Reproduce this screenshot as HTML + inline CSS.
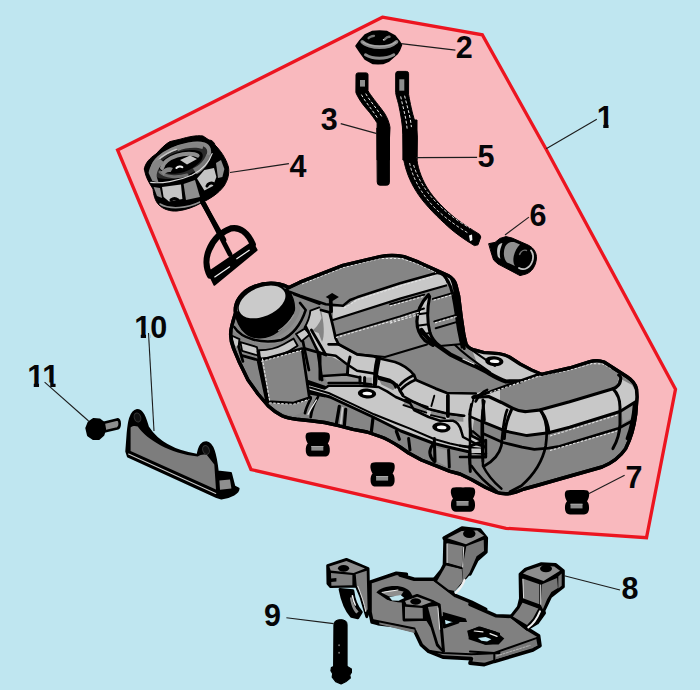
<!DOCTYPE html>
<html lang="en">
<head>
<meta charset="utf-8">
<title>Fuel tank assembly diagram</title>
<style>
html,body{margin:0;padding:0;background:#bfe6f0;}
body{width:700px;height:690px;overflow:hidden;}
svg{display:block;}
text{font-family:"Liberation Sans",sans-serif;font-weight:bold;font-size:30.5px;fill:#050508;}
</style>
</head>
<body>
<svg width="700" height="690" viewBox="0 0 700 690" stroke-linejoin="round" stroke-linecap="round">
<rect width="700" height="690" fill="#bfe6f0"/>
<polygon points="382.4,17.2 482.3,34.8 546,149 675.5,389.2 646.5,537.7 506,528.3 251,469.5 117.6,150" fill="#f9b9be" stroke="#ec1520" stroke-width="3.3" stroke-linejoin="miter"/>
<defs><clipPath id="sil"><path d="M235.5,313 C234,302 242,291 254,286.5 C262,283.5 272,282.8 279,284 C284,285 287,286.5 289,287.5 L300,282.2 L343,265.4 L380,256.6 C388,255 396,255 404,256.6 L418.6,262.2 L437,270.6 L448,275.5 C453,278.4 455,281.4 456,285.4 L458.6,296 L461.4,318.6 L464,335.7 L466,344 C468,348 471,349.5 476,350.5 L484,352.6 L498.6,353.6 C504,354.5 507,355.5 510,357.5 L520,364 L531.4,370 L541.4,374.3 L569.6,368 L590,361.6 C594,360.4 600,360.4 604,362 L611.4,366.7 L627,376.7 C632,380 635.5,384 636.5,389 L637,397 L635.7,414.3 C634,428 630,440 625.7,448.6 C620,457 612,463 602,467 L559.6,479 L538.6,485 L524,489 C518,491.5 514,493 510,493.5 C504,494 500,493.5 497,492.5 L485.7,487.5 L471.4,479.5 L460,474 L450,471.4 L435.7,465.7 L421.4,460 L408.6,453 L400,447 C392,442 386,438.5 381.4,437 L367,432 L353,429.3 L338.6,425.7 L324.6,422.5 L310.7,420.7 L296.4,419.3 C290,418.5 286,417.5 282,415.7 C276,412.5 272,409.5 268,405.7 L258,394 L248,380 L239,361.4 L233.6,348.6 C231,342 230,336 231,330 C232,324 234,318 235.5,313 Z"/></clipPath></defs>
<path d="M235.5,313 C234,302 242,291 254,286.5 C262,283.5 272,282.8 279,284 C284,285 287,286.5 289,287.5 L300,282.2 L343,265.4 L380,256.6 C388,255 396,255 404,256.6 L418.6,262.2 L437,270.6 L448,275.5 C453,278.4 455,281.4 456,285.4 L458.6,296 L461.4,318.6 L464,335.7 L466,344 C468,348 471,349.5 476,350.5 L484,352.6 L498.6,353.6 C504,354.5 507,355.5 510,357.5 L520,364 L531.4,370 L541.4,374.3 L569.6,368 L590,361.6 C594,360.4 600,360.4 604,362 L611.4,366.7 L627,376.7 C632,380 635.5,384 636.5,389 L637,397 L635.7,414.3 C634,428 630,440 625.7,448.6 C620,457 612,463 602,467 L559.6,479 L538.6,485 L524,489 C518,491.5 514,493 510,493.5 C504,494 500,493.5 497,492.5 L485.7,487.5 L471.4,479.5 L460,474 L450,471.4 L435.7,465.7 L421.4,460 L408.6,453 L400,447 C392,442 386,438.5 381.4,437 L367,432 L353,429.3 L338.6,425.7 L324.6,422.5 L310.7,420.7 L296.4,419.3 C290,418.5 286,417.5 282,415.7 C276,412.5 272,409.5 268,405.7 L258,394 L248,380 L239,361.4 L233.6,348.6 C231,342 230,336 231,330 C232,324 234,318 235.5,313 Z" fill="#858585" stroke="#000" stroke-width="3.4" />
<g clip-path="url(#sil)">
<path d="M233.6 326.4C240 337.1 255.7 342.9 268.6 340C282.9 336.4 297.1 324.3 300 310L300 302.9L305.7 310C304.3 324.3 294.3 337.1 281.4 342.1C267.1 347.1 244.3 341.4 232.1 330Z" fill="#8e8e8e" stroke="none" stroke-width="2" />
<path d="M233.6 337.1L238.6 340L237.9 346.4L234.3 344.3Z" fill="#c8c8c8" stroke="#c8c8c8" stroke-width="1.6" />
<path d="M241.4 343.1L256 347.9L257.4 354.6L242.9 350Z" fill="#c8c8c8" stroke="#c8c8c8" stroke-width="1.6" />
<path d="M260 351.1C267.1 351.1 277.1 348.9 284.3 345L293.1 339.7L296.4 345.4C291.4 349.3 285.7 352.1 280 354.3C272.9 356.4 265.7 357.4 260.7 357.4Z" fill="#c8c8c8" stroke="#c8c8c8" stroke-width="1.6" />
<path d="M297.1 334.3L304.6 329.7L308.9 334.3L301.4 340.3Z" fill="#c8c8c8" stroke="#c8c8c8" stroke-width="1.6" />
<path d="M305.7 327.1C308.6 322.9 310.7 317.1 311.4 311.4L318.6 308.6L320.7 317.9C318.6 322.9 315.7 327.1 311.4 330.3Z" fill="#c8c8c8" stroke="#c8c8c8" stroke-width="1.6" />
<path d="M321,310 L329.5,312.4 C332,322 334,330 335.5,338 L338.6,344.3 L330,346 L326,355 L318,352 L322,342 C325,336 324,322 321,310 Z" fill="#c8c8c8" stroke="none" stroke-width="2" />
<path d="M310 330L318.6 332.9L325.7 351.4L318.6 352.9L310 344.3Z" fill="#c8c8c8" stroke="none" stroke-width="2" />
<path d="M333,307 L348.6,305 L357,298 L400,283.6 L435.7,273.6 L443,275.7 L447,283 L445.7,285.7 L400,298.6 L333,320 Z" fill="#c8c8c8" stroke="none" stroke-width="2" />
<path d="M444.3 276.4L451.4 278.6L454.6 285.7L448.9 284.6Z" fill="#c8c8c8" stroke="none" stroke-width="2" />
<path d="M428.3 295.4C422.1 301.4 417.9 310 417.1 320C416.9 327.1 419.3 334.3 424.3 339.3L432.9 345C429.3 337.1 427.4 327.1 427.4 317.1C427.4 310 428 302.9 429.3 297.1Z" fill="#c8c8c8" stroke="none" stroke-width="2" />
<path d="M328.6,344.3 L338.6,344.3 L357,354.3 L374,356.4 L382,359 L395,362 L407,368 L414,375 L416,380 L435.7,388.6 L447,393 L475.7,393.5 L486,390 L500,390 L500,404 L489,406 L485,418.6 L483,437 L486,447 L485.7,453 L468.6,451.4 L450,447 L434,443 L401,431 L373,417 L330,397 L310,391.4 L309,384 L324.6,388 L328.6,385.7 L326,355 Z" fill="#c8c8c8" stroke="none" stroke-width="2" />
<path d="M472,350 L484,352.6 L498.6,354.3 L510,358.6 L520,365.7 L540,374.3 L520,381.4 L505.7,381.4 L491.4,373 L477,363 Z" fill="#c8c8c8" stroke="none" stroke-width="2" />
<path d="M473,397.5 L488.6,396.5 L501.4,402.4 L513,408.4 L527,411.5 L538.6,410.2 L569.6,401.8 L613,388.8 L617,384 L619,378 L632,385 L636.5,393 L636,402.5 L620,411.5 L569.6,427.2 L548.6,432.8 L527,435.6 L505.7,431.2 L484,422.4 L473,415 Z" fill="#c8c8c8" stroke="none" stroke-width="2" />
<path d="M621.4 411.4L634.3 404.3L633.1 417.1L623.1 422.9Z" fill="#9a9a9a" stroke="none" stroke-width="2" />
<path d="M320,355 L332,357 L340,361 L349,365.5 L349,375.5 L320,377 Z" fill="#858585" stroke="none" stroke-width="2" />
<path d="M310,338 L319.5,350 L319.5,384 L310,384 Z" fill="#858585" stroke="none" stroke-width="2" />
<path d="M322.9 376L345.7 374.6L360 377.4L360 383.1L328.6 383.1Z" fill="#9a9a9a" stroke="none" stroke-width="2" />
<path d="M364.6 377.4L371.7 377.4L371.7 384.6L364.6 383.9Z" fill="#9a9a9a" stroke="none" stroke-width="2" />
<path d="M378.9 378.9L390 381.7L395.7 387.4L393.1 390.3L381.4 384.6Z" fill="#858585" stroke="none" stroke-width="2" />
<path d="M405.1 399.4L427.7 406.9L426.3 412.6L403.4 405.1Z" fill="#8e8e8e" stroke="none" stroke-width="2" />
<path d="M430.9 409.7L446.3 413.3L445.1 418.3L430.9 415.1Z" fill="#8e8e8e" stroke="none" stroke-width="2" />
<path d="M448.6 414L463.4 416.1L463.4 421.7L450 420.9Z" fill="#8e8e8e" stroke="none" stroke-width="2" />
<path d="M474.3 418.6L481.7 420.3L481.7 437.4L471.7 434.6Z" fill="#858585" stroke="none" stroke-width="2" />
<path d="M269.3 404.6L293.6 403.1L310.7 398.9L303.9 411.7L293.6 416L282.1 413.1Z" fill="#8c8c8c" stroke="none" stroke-width="2" />
<path d="M436 447.4L447.1 450.3L448.6 467.4L437.4 461.7Z" fill="#9a9a9a" stroke="none" stroke-width="2" />
<path d="M290,292 L300,295.7 L325.7,304.3 L343,305.7 L350,300 L357,297.3 L400,283.2 L435.7,273.2 C441,272 446,276 447.5,282" fill="none" stroke="#000" stroke-width="2.5" />
<path d="M333,320 L400,298.6 L446,285.5" fill="none" stroke="#000" stroke-width="2.25" />
<path d="M335.7,335.7 L400,316.4 L424,308.5" fill="none" stroke="#000" stroke-width="1.88" />
<path d="M390 304.3L424.3 294.6" fill="none" stroke="#000" stroke-width="1.88" />
<path d="M325.7 297.1L332.1 292.9L338.9 296.9L332.6 301.1Z" fill="#000" stroke="none" stroke-width="2" />
<path d="M330.7 299.3L331.1 311.4" fill="none" stroke="#000" stroke-width="3.75" />
<path d="M338.6,344.3 L357,354.3 L370,355.5 L385,357 L427,344.5" fill="none" stroke="#000" stroke-width="2.0" />
<path d="M421.4,330 C426,337 430,341 435.7,344.3 L450,354.3 L464.3,361.4 L474.3,365.7 L485.7,371.4 C492,375 498,379 506,381.5 L520,381.4" fill="none" stroke="#000" stroke-width="4.25" />
<path d="M463,359 L474,364" fill="none" stroke="#ececec" stroke-width="1.3" />
<path d="M428.6 294.6C422.1 301.4 417.1 311.4 416.9 321.4C416.9 328.6 420 335.7 425 340.7L432.9 345.4" fill="none" stroke="#000" stroke-width="3.25" />
<path d="M429.7 296.4C427.4 307.1 426.9 321.4 430 332.9C432.1 338.6 435.7 342.9 440 346" fill="none" stroke="#000" stroke-width="3.0" />
<path d="M418.6 314.3L427.4 312.9M417.4 325.7L428.3 324.3M420.7 334.3L430.7 332.9" fill="none" stroke="#000" stroke-width="2.0" />
<path d="M432.9 298.9L453.1 292.9M434.3 321.4L457.1 314.6M435.7 328.3L458.9 321.4M440 346L467.9 343.6" fill="none" stroke="#000" stroke-width="2.0" />
<path d="M445 276.4C450 282.9 452.9 292.9 454.6 304.3L458.6 330L462.1 347.1M451.4 278.6C455 285.7 456.4 297.1 458.3 311.4L461.4 332.9L464.3 348.6" fill="none" stroke="#000" stroke-width="3.0" />
<path d="M460,340 C470,350 482,357 495,366 M455,345 C466,356 478,364 490,372" fill="none" stroke="#000" stroke-width="2.0" />
<path d="M328.6,344.3 L338.6,344.3 L357,354.3 L374,356.4 L382,359 L395,362 C404,365 410,370 414,375 L416,380 L435.7,388.6 L447,393 L475.7,393.5" fill="none" stroke="#000" stroke-width="2.75" />
<path d="M325.7,354.3 L335.7,355.7 L347,364.3 L357,370.7 L374,373.6 L379,377 L390,380 C396,383 399,387 400,391 L403,396 L414,402 L428.6,409 L447,413.5 L464.3,415.7" fill="none" stroke="#000" stroke-width="2.5" />
<path d="M320 354.3L320 379.3M350 357.1L347.9 366.4L347.4 374.6M377.1 358.6C375 367.1 374.3 377.1 374.6 385.7M360 377.1L360 383.1M364.6 377.4L364.6 383.9" fill="none" stroke="#000" stroke-width="3.0" />
<path d="M322.9 376L345.7 374.6L360 377.4M328.6 383.1L360 383.1L371.7 384.6M378.9 378.9L390 381.7C392.9 382.9 395 385 395.7 387.4" fill="none" stroke="#000" stroke-width="2.5" />
<path d="M379 358C377 367 375.5 377 375 385" fill="none" stroke="#000" stroke-width="4.0" />
<path d="M414 375C410 377 404 380 400 385M400 391C403 387 408 383 415 380M397 385C398.5 388 400 391 403 395" fill="none" stroke="#000" stroke-width="2.75" />
<path d="M405.1 399.4L427.7 406.9M430.9 409.7L446.3 413.3M448.6 414L463.4 416.1M403.4 405.1L426.3 412.6M430.9 415.1L445.1 418.3M434.3 395.7L431.4 406M474.3 395.7L469.3 414.6" fill="none" stroke="#000" stroke-width="1.88" />
<path d="M447.9 395.7L447.9 416" fill="none" stroke="#000" stroke-width="3.75" />
<path d="M309,384 L324.6,388.5 L328.6,385.7 L360,385.7 L378.6,387 L387,391.4 L395.7,397 L410,403 L414,410 L428.6,417 L440,420.7 L453,420.7 C458,422 460,426 461.4,431.4 L463,437 L477,444.3 L485.7,447" fill="none" stroke="#000" stroke-width="2.5" />
<path d="M310,387.5 L328.6,393 L353,404.3 L374,414.3 L395.7,423 L410,428.6 L434,439 L450,443.5 L468.6,447.5 L484,449" fill="none" stroke="#000" stroke-width="2.0" />
<path d="M310,391.4 L330,397 L373,417 L401,431 L434,443.5 L450,447.5 L468.6,451.8 L485.7,453.5" fill="none" stroke="#000" stroke-width="3.0" />
<path d="M470 446L485.7 440.3L485.7 457.1L470 457.1Z" fill="none" stroke="#000" stroke-width="3.0" />
<path d="M471.4 448.6L484.3 448.6L484.3 452.9L471.4 452.9Z" fill="#c8c8c8" stroke="none" stroke-width="2" />
<path d="M339.3 406.4L336.4 423.6M345.7 409.3L344.3 426.4M372.9 418.6L371.4 431.4M396.4 431.4L399.3 439.3" fill="none" stroke="#000" stroke-width="3.25" />
<path d="M309.3 393.1L324.6 396M310.7 398.6C307.9 404.3 305.7 408.6 305 413.1M317.9 397.1C313.6 404.3 311.4 411.4 310.7 417.1" fill="none" stroke="#000" stroke-width="2.75" />
<path d="M307.9 381.4L324.6 387.1" fill="none" stroke="#000" stroke-width="3.0" />
<path d="M408.6 438.6L410 450M434.3 438.6L435 461.4M448.6 450L449.3 467.1M469.3 454.3L470.3 471.4M432.9 444.3C428.6 450 428.6 455.7 434.3 461.4" fill="none" stroke="#000" stroke-width="3.0" />
<path d="M342.6 407.9L340.7 424.3" fill="none" stroke="#c8c8c8" stroke-width="1.8" />
<path d="M316.4 400C312.9 405.7 310 410 308.1 414.3" fill="none" stroke="#ececec" stroke-width="1.4" />
<path d="M230 332.9C231.4 338.6 233.6 344.3 234.3 350M234.3 327.1C241.4 338.6 261.4 344.3 281.4 340C291.4 335.7 300 327.1 305.7 310L300 302.9" fill="none" stroke="#000" stroke-width="2.5" />
<path d="M232.6 336L239.4 339.1L238.6 347.4M240.4 342.1L256.9 347.1L258.6 355.7L242.1 350.9ZM259 350.3C267.1 350.3 277.1 348 283.7 344.3L293.6 338.6L297.6 345.7C291.4 350.3 285.7 353.1 280 355.3C272.9 357.4 265.7 358.4 260 358.4ZM296 334L304.7 328.6L310 334.3L301.4 341.4ZM304.6 327.4C307.4 322.9 309.7 317.1 310.4 310.7L319.3 307.4" fill="none" stroke="#000" stroke-width="1.88" />
<path d="M257.9 351.4L260.3 370M302.9 341.4L308.9 370M238.6 346.4L242.9 361.4M294.3 294.3L319.6 303.6" fill="none" stroke="#000" stroke-width="2.75" />
<path d="M321,310 L329.5,312.4 C332,322 334,330 335.5,338 L338.6,344.3 M306,327 L318,352 M311.4,330 L326,355 M318,352 L326,355" fill="none" stroke="#000" stroke-width="2.75" />
<path d="M242.1 355.7L257.9 360L266.4 400M259.3 357.1L267.9 400.7M260.7 360L302.1 348.6M267.9 401.7L293.6 403.1L310.7 397.4M302.1 348.6L309.3 397.1M305 348.6L324.6 354.3M317.9 352.9L322.1 380" fill="none" stroke="#000" stroke-width="2.75" />
<path d="M538.6,374.3 L483,394.3 L473,397" fill="none" stroke="#000" stroke-width="3.0" />
<path d="M473,397.5 L488.6,396.5 L501.4,402.4 L513,408.4 C518,411 523,411.8 527,411.5 L538.6,410.2 L569.6,401.8 L613,388.8 C617,387.3 620,384 620.5,380" fill="none" stroke="#000" stroke-width="3.25" />
<path d="M484,422.4 L505.7,431.2 L527,435.6 L548.6,432.8 L569.6,427.2 L620,411.5 L636,401.5" fill="none" stroke="#000" stroke-width="3.0" />
<path d="M484,434 L503,442.5 L522,447.2 L534.3,449.4 L548.6,448.2 L559.6,446.3 L618.6,428.2 L633,420.5" fill="none" stroke="#000" stroke-width="2.75" />
<path d="M482.9 400L484.3 420M511.4 410C507.9 417.1 505 425.7 504.3 438.6M541.4 411.4C546.4 418.6 548.3 425.7 548.9 432.9" fill="none" stroke="#000" stroke-width="3.0" />
<path d="M612.9 388.6C617.1 392.9 620 398.6 620 407.1L620 424.3C619.7 432.9 617.1 441.4 612.9 448.6M634.3 404.3C633.6 414.3 631.4 427.1 627.1 438.6M620 381.4C621.4 378.6 621.1 376.4 618.6 375" fill="none" stroke="#000" stroke-width="3.0" />
<path d="M507.1 410C503.6 418.6 502.9 428.6 501.4 445.7C499.3 454.3 492.9 461.4 484.3 466M540 410C546.4 418.6 547.9 431.4 545.7 445.7C542.9 460 534.3 474.3 521.4 485.7L510 491.7" fill="none" stroke="#000" stroke-width="2.75" />
<path d="M470 410L470 464.3M482.9 410L482.9 464.3M471.4 417.1L481.4 421.4M472.9 431.4L481.4 438.6M460 445.7L470 447.1M460 457.1L481.4 457.1M471.4 465.7C477.1 474.3 485.7 482.9 497.1 491.4M482.9 465.7C487.1 474.3 492.9 481.4 501.4 488.6" fill="none" stroke="#000" stroke-width="2.5" />
<path d="M471.4 404.3C469.3 412.9 469.3 424.3 471.4 435.7L480 440M484.3 401.4C481.7 411.4 481.1 432.9 482.9 461.4M475.7 401.4C478.6 395.7 482.9 391.4 487.1 390" fill="none" stroke="#000" stroke-width="2.75" />
<path d="M302,284 L343,267.5 L380,258.5 L402,258.5 L418,264 L436,272.5" fill="none" stroke="#e4e4e4" stroke-width="1.1" stroke-dasharray="2.5 1.5" stroke-linecap="butt"/>
<path d="M336,337.5 L400,318.5 L424,310.5" fill="none" stroke="#e4e4e4" stroke-width="1.1" stroke-dasharray="2.5 1.5" stroke-linecap="butt"/>
<path d="M390 306L424 296.3" fill="none" stroke="#e4e4e4" stroke-width="1.1" stroke-dasharray="2.5 1.5" stroke-linecap="butt"/>
<path d="M390 323.1L418.6 314.6" fill="none" stroke="#e4e4e4" stroke-width="1.1" stroke-dasharray="2.5 1.5" stroke-linecap="butt"/>
<path d="M344,308 L357,300 L400,286 L434,276" fill="none" stroke="#e4e4e4" stroke-width="1.1" stroke-dasharray="2.5 1.5" stroke-linecap="butt"/>
<path d="M490,392.5 L538,376.5 L570,370 L592,363.5 L603,364 L612,369" fill="none" stroke="#e4e4e4" stroke-width="1.1" stroke-dasharray="2.5 1.5" stroke-linecap="butt"/>
<path d="M550,436 L618,414.8" fill="none" stroke="#e4e4e4" stroke-width="1.1" stroke-dasharray="2.5 1.5" stroke-linecap="butt"/>
<path d="M550,450.5 L617,431" fill="none" stroke="#e4e4e4" stroke-width="1.1" stroke-dasharray="2.5 1.5" stroke-linecap="butt"/>
<path d="M541,487 L603,469.5" fill="none" stroke="#e4e4e4" stroke-width="1.1" stroke-dasharray="2.5 1.5" stroke-linecap="butt"/>
<path d="M261.4 361.4L301.4 350.3" fill="none" stroke="#e4e4e4" stroke-width="1.1" stroke-dasharray="2.5 1.5" stroke-linecap="butt"/>
<path d="M262.4 358.6L269.6 400.7" fill="none" stroke="#e4e4e4" stroke-width="1.1" stroke-dasharray="2.5 1.5" stroke-linecap="butt"/>
<path d="M269.3 402.9L293.6 404.3L309.3 399.3" fill="none" stroke="#e4e4e4" stroke-width="1.1" stroke-dasharray="2.5 1.5" stroke-linecap="butt"/>
<path d="M433.6 300.3L452.9 294.6" fill="none" stroke="#e4e4e4" stroke-width="1.1" stroke-dasharray="2.5 1.5" stroke-linecap="butt"/>
<path d="M435 322.9L457.1 316.3" fill="none" stroke="#e4e4e4" stroke-width="1.1" stroke-dasharray="2.5 1.5" stroke-linecap="butt"/>
</g>
<path d="M235.7 312.9C236 320 240 328.6 245.7 333.1C251.4 337.9 261.4 339.3 270 335.7C280 332.1 291.4 320 294.3 310C295 302.9 292.1 294.3 287.1 288.6Z" fill="#000" stroke="#000" stroke-width="1.5" />
<ellipse cx="262.3" cy="301.5" rx="26.3" ry="16.4" transform="rotate(-23 262.3 301.5)" fill="#000"/>
<ellipse cx="262.1" cy="301.9" rx="24.6" ry="14.5" transform="rotate(-23 262.1 301.9)" fill="#cacaca"/>
<path d="M278.6 330.7C284.3 327.1 290 321.4 293.6 315" fill="none" stroke="#999" stroke-width="1.3" />
<path d="M235.5,313 C234,302 242,291 254,286.5 C262,283.5 272,282.8 279,284 C284,285 287,286.5 289,287.5 L300,282.2 L343,265.4 L380,256.6 C388,255 396,255 404,256.6 L418.6,262.2 L437,270.6 L448,275.5 C453,278.4 455,281.4 456,285.4 L458.6,296 L461.4,318.6 L464,335.7 L466,344 C468,348 471,349.5 476,350.5 L484,352.6 L498.6,353.6 C504,354.5 507,355.5 510,357.5 L520,364 L531.4,370 L541.4,374.3 L569.6,368 L590,361.6 C594,360.4 600,360.4 604,362 L611.4,366.7 L627,376.7 C632,380 635.5,384 636.5,389 L637,397 L635.7,414.3 C634,428 630,440 625.7,448.6 C620,457 612,463 602,467 L559.6,479 L538.6,485 L524,489 C518,491.5 514,493 510,493.5 C504,494 500,493.5 497,492.5 L485.7,487.5 L471.4,479.5 L460,474 L450,471.4 L435.7,465.7 L421.4,460 L408.6,453 L400,447 C392,442 386,438.5 381.4,437 L367,432 L353,429.3 L338.6,425.7 L324.6,422.5 L310.7,420.7 L296.4,419.3 C290,418.5 286,417.5 282,415.7 C276,412.5 272,409.5 268,405.7 L258,394 L248,380 L239,361.4 L233.6,348.6 C231,342 230,336 231,330 C232,324 234,318 235.5,313 Z" fill="none" stroke="#000" stroke-width="3.4" />
<ellipse cx="367" cy="393.5" rx="9.2" ry="5" transform="rotate(5 367 393.5)" fill="#000"/>
<ellipse cx="367.3" cy="393.5" rx="4.8" ry="1.8" transform="rotate(3 367 393.5)" fill="#fafafa"/>
<ellipse cx="441.4" cy="427.4" rx="9.2" ry="5" transform="rotate(5 441.4 427.4)" fill="#000"/>
<ellipse cx="441.7" cy="427.4" rx="4.8" ry="1.8" transform="rotate(3 441.4 427.4)" fill="#fafafa"/>
<ellipse cx="494.3" cy="361.2" rx="9.2" ry="5" transform="rotate(5 494.3 361.2)" fill="#000"/>
<ellipse cx="494.6" cy="361.2" rx="4.8" ry="1.8" transform="rotate(3 494.3 361.2)" fill="#fafafa"/>
<path d="M356 46L360 40.5L365 35L372 31.6L379.5 31L387 31.6L395 36L399 41L401.5 45L399.5 50L397 54L389 61L383 63.5L378 63.8L373 63.5L365 59L360 52Z" fill="#000" stroke="#000" stroke-width="1.5" />
<path d="M362.2 41.8C365 45 373 47.2 379.5 47.2C386 47.2 393 45 396.5 41.8" fill="none" stroke="#8a8a8a" stroke-width="3.6" />
<path d="M363 42.2C367 44.8 374 46.2 379.5 46.2C385 46.2 392 44.8 395.8 42.2" fill="none" stroke="#b0b0b0" stroke-width="1.2" />
<path d="M365.5 54.8C369 57 374 58.2 379.5 58.2C385 58.2 390 57 393.8 54.8" fill="none" stroke="#8a8a8a" stroke-width="3" />
<path d="M368.5 38.2C369.5 36.8 371.5 36 374 35.8" fill="none" stroke="#777" stroke-width="2.2" />
<path d="M385 39C386.5 37.2 388 36.5 389.5 36.8" fill="none" stroke="#777" stroke-width="2.4" />
<path d="M383.4 39.6L384 40.2" fill="none" stroke="#eee" stroke-width="1.2" />
<path d="M356 74.6Q356 72.9 358 72.9L366 72.9Q368 72.9 368 74.6L368 90.7C370.7 95.7 376.4 102.1 384.3 112.9C387.1 117.1 389.4 122.9 390 127.4L389.4 140L389.4 160L377.1 160L377.1 122.9C374.3 118.6 371.4 114.3 365.7 107.9C361.4 102.9 357.9 97.4 356 92.9Z" fill="#000" stroke="#000" stroke-width="1" />
<path d="M377.2 128L389.4 128L389.4 182.4Q389.4 185.2 386.6 185.2L380 185.2Q377.2 185.2 377.2 182.4Z" fill="#000" stroke="#000" stroke-width="1" />
<path d="M360 80L365 80L365 86.6L360 86.6Z" fill="#8e8e8e" stroke="none" stroke-width="2" />
<path d="M361.4 94.6C365 101.4 371.4 108.6 377.4 117.9" fill="none" stroke="#e8e8e8" stroke-width="1" stroke-dasharray="3 2" stroke-linecap="butt"/>
<path d="M365.7 93.6C369.3 100 375.7 107.1 381.7 116.4" fill="none" stroke="#e8e8e8" stroke-width="1" stroke-dasharray="3 2" stroke-linecap="butt"/>
<path d="M395.7 73.6Q395.7 71.4 398 71.4L406.3 71.4Q408.6 71.4 408.6 73.6L408.6 94.3C409.3 98.6 411.4 110 413.6 117.1C415.7 124.3 417.1 131.4 417.3 137.1L416.9 160L402.9 160L402.9 134.3C402.6 124.3 400.7 114.3 398.6 104.3C397.1 98.6 396 95.7 395.7 92.9Z" fill="#000" stroke="#000" stroke-width="1" />
<path d="M403 120L417 120L417 160C418 170 423.6 182.4 427.6 188.4C433.6 198.4 445.6 210.4 455.6 218.4C463.6 224.4 471.6 229.4 479.6 234.4L480.8 237L478 244.8L474.4 245.6C464.4 239.6 452.4 231.2 444.4 223.2C434.4 214.2 422.4 201.6 416.4 191.6C409.6 181 405.6 170 403.8 160Z" fill="#000" stroke="#000" stroke-width="1" />
<path d="M399.3 79.3L404.3 79.3L404.3 90.7L399.3 90.7Z" fill="#8e8e8e" stroke="none" stroke-width="2" />
<path d="M400.7 96.4C402.9 107.1 406 117.1 407.1 128.6" fill="none" stroke="#e8e8e8" stroke-width="1" stroke-dasharray="3 2" stroke-linecap="butt"/>
<path d="M404.6 95.7C406.9 105.7 410.3 115.7 411.4 127.1" fill="none" stroke="#e8e8e8" stroke-width="1" stroke-dasharray="3 2" stroke-linecap="butt"/>
<path d="M409.6 163C413 180 424 198 438 211C448 220 458 227 468 233" fill="none" stroke="#e8e8e8" stroke-width="0.9" stroke-dasharray="3 2" stroke-linecap="butt"/>
<path d="M413.6 165C418 180 428 195 441 207C450 215.6 460 222.4 470 228" fill="none" stroke="#e8e8e8" stroke-width="0.9" stroke-dasharray="3 2" stroke-linecap="butt"/>
<path d="M469 235.6L472 234.4L472.4 240L470 241.2Z" fill="#f2f2f2" stroke="none" stroke-width="2" />
<path d="M489 243.6L495 242.4L500 238.4L506 236.6L512 238L528 245C534 248 537 253 536.4 259C535.6 266 532 272 526 274L520 275.6L514 272.4L498 264L493.6 260L491 252Z" fill="#000" stroke="#000" stroke-width="1" />
<path d="M505 247C507 243 510 241.6 514 242L520 244.4C517 247 514.4 252 513.6 257C513 261 513.6 264 515 266L507 262.4C503.6 259 503 252 505 247Z" fill="#8f8f8f" stroke="none" stroke-width="2" />
<path d="M498 246C499 244 501 243 502.4 243L500.4 249C499.6 252 499.6 256 500.4 259L498 257C496.8 254 496.8 249 498 246Z" fill="#c4c4c4" stroke="none" stroke-width="2" />
<path d="M519 268C524 271 530 268 532.4 261C533.6 257 533 253 531 250.4" fill="none" stroke="#c4c4c4" stroke-width="1.8" />
<path d="M519.6 254.4C521 251 524 249.6 526.4 250.4" fill="none" stroke="#6f6f6f" stroke-width="1.5" />
<path d="M144.4 169C145 163 150 158 156 154C160 150 165 144 170 141.6L181 139C188 137 196 135 203 136L209 140C212 140 214 142 215 145C220 150 226 158 228.4 167C229.6 173 228 180 224 186C219 193 210 199 201 203C194 207 186 210 177 211C170 211.6 163 209 159 205C155 201 153.6 195 153 189C150 184 145.6 178 144.4 169Z" fill="#000" stroke="#000" stroke-width="1" />
<path d="M150 167C151 160 160 152 171 147C182 142 196 139 205 142C212 145 213 152 209 159C204 168 192 175 180 178.4C168 181 156 180 151.6 174.4C150 172.4 149.6 169.6 150 167Z" fill="#2a2a2a" stroke="#000" stroke-width="1.5" />
<path d="M152.4 168C154 161 162 154 172 149.6C182 145.2 196 142 204 144.4C209 146.4 210.4 151 208.4 156" fill="none" stroke="#8a8a8a" stroke-width="4" />
<path d="M155 164.4C158 159 164 154.4 172.4 150.8C182.4 146.4 194.4 144 201.6 145.6" fill="none" stroke="#c8c8c8" stroke-width="1.4" />
<path d="M158 167C160 161 168 155 178 152C186 149.6 196 149 201 152C204 154.4 203 159 199 163C194 168 186 172.4 177 173.6C168 174.4 160 172.4 158 167Z" fill="#000" stroke="none" stroke-width="2" />
<path d="M162 168C163 163 169 158 177 155.6C185 153 194 153 197.6 155.6" fill="none" stroke="#8f8f8f" stroke-width="4" />
<path d="M180 160L190 155.6L197 159L187 164.4Z" fill="#c4c4c4" stroke="none" stroke-width="2" />
<path d="M176.4 168C178 166.4 181 166 182.4 167.2" fill="none" stroke="#eee" stroke-width="2" />
<path d="M160 172C165 177 177 178 187 175" fill="none" stroke="#6f6f6f" stroke-width="3" />
<path d="M148.6 172.9C149.3 166.7 153.6 161.9 159.6 158.7L164.3 162.4C159.6 166.1 156.4 171 156.7 176.7L158.6 182.4L152.4 181Z" fill="#858585" stroke="none" stroke-width="2" />
<path d="M175.3 146.7C183.6 143 195 141.6 203.9 144.4L202.4 149C195 146.7 185 148.1 178.1 151Z" fill="#858585" stroke="none" stroke-width="2" />
<path d="M192.9 168.6C199.3 165.7 204.3 160.7 206.4 154.3L211 155.6C209.3 163.6 203.6 170.7 196.7 174.3Z" fill="#777" stroke="none" stroke-width="2" />
<path d="M160.7 172.1C163.6 167.9 169.3 166.4 172.9 167.9L170.7 172.1C167.9 171.4 165 172.9 163.6 175.7Z" fill="#858585" stroke="none" stroke-width="2" />
<path d="M150.7 182.4C160.7 183.6 177.9 181.4 192.1 175C202.1 170 209.3 162.1 212.1 153.6" fill="none" stroke="#d8d8d8" stroke-width="1.2" />
<path d="M162 187L181 184.4L182.4 199L169 201.6L163.6 197Z" fill="#c4c4c4" stroke="none" stroke-width="2" />
<path d="M197 178.4L204.4 170L214 168L216.4 177L213 186L204.4 190.4Z" fill="#c4c4c4" stroke="none" stroke-width="2" />
<path d="M183.6 184L195 180L200 197L186 200Z" fill="#8f8f8f" stroke="none" stroke-width="2" />
<path d="M216 163L221 160L224.4 169L222.4 177L218 178Z" fill="#8f8f8f" stroke="none" stroke-width="2" />
<path d="M153.6 187L160 188L162 198L157 196Z" fill="#8f8f8f" stroke="none" stroke-width="2" />
<path d="M207 186C208 183.6 211 182.4 213.6 183.6" fill="none" stroke="#000" stroke-width="3" />
<path d="M171 200C173 198.4 176 198.4 178 200" fill="none" stroke="#000" stroke-width="3" />
<path d="M160 204C170 210 188 208 200 202" fill="none" stroke="#8f8f8f" stroke-width="1.5" />
<path d="M202.4 202L224 240" fill="none" stroke="#000" stroke-width="4.8" />
<path d="M204 204L230 254.4" fill="none" stroke="#000" stroke-width="4.8" />
<path d="M210 275.6C205.6 268 205.6 258 209 250C213 240 220 232.4 231 228.4C240 226.4 248 233 252.8 244.4" fill="none" stroke="#000" stroke-width="6.2" />
<path d="M208.4 272.4L252.4 242.4L256.6 250L214.4 284.8Z" fill="#000" stroke="#000" stroke-width="2" />
<path d="M214.4 277.2L230 266.4" fill="none" stroke="#f4f4f4" stroke-width="1.2" stroke-linecap="butt"/>
<path d="M236.4 259L249.6 250" fill="none" stroke="#f4f4f4" stroke-width="1.2" stroke-linecap="butt"/>
<g transform="translate(317.8 444.4)"><path d="M-9,-12 C-12,-12 -12.5,-9 -12,-6 C-11.6,-3.5 -10.6,-2 -10,-1 C-11.5,0.5 -12.2,3 -12,6.5 C-11.8,10 -10,12.2 -7,12.2 L7,12.2 C10,12.2 11.8,10 12,6.5 C12.2,3 11.5,0.5 10,-1 C10.6,-2 11.6,-3.5 12,-6 C12.5,-9 12,-12 9,-12 C6,-12.4 3,-12.2 0,-12.2 C-3,-12.2 -6,-12.4 -9,-12 Z" fill="#000"/><rect x="-6.5" y="1.6" width="12" height="4.6" fill="#8c8c8c"/><rect x="-6.5" y="1.6" width="12" height="1" fill="#a8a8a8"/></g>
<g transform="translate(382.6 474.4)"><path d="M-9,-12 C-12,-12 -12.5,-9 -12,-6 C-11.6,-3.5 -10.6,-2 -10,-1 C-11.5,0.5 -12.2,3 -12,6.5 C-11.8,10 -10,12.2 -7,12.2 L7,12.2 C10,12.2 11.8,10 12,6.5 C12.2,3 11.5,0.5 10,-1 C10.6,-2 11.6,-3.5 12,-6 C12.5,-9 12,-12 9,-12 C6,-12.4 3,-12.2 0,-12.2 C-3,-12.2 -6,-12.4 -9,-12 Z" fill="#000"/><rect x="-6.5" y="1.6" width="12" height="4.6" fill="#8c8c8c"/><rect x="-6.5" y="1.6" width="12" height="1" fill="#a8a8a8"/></g>
<g transform="translate(463 499.6)"><path d="M-9,-12 C-12,-12 -12.5,-9 -12,-6 C-11.6,-3.5 -10.6,-2 -10,-1 C-11.5,0.5 -12.2,3 -12,6.5 C-11.8,10 -10,12.2 -7,12.2 L7,12.2 C10,12.2 11.8,10 12,6.5 C12.2,3 11.5,0.5 10,-1 C10.6,-2 11.6,-3.5 12,-6 C12.5,-9 12,-12 9,-12 C6,-12.4 3,-12.2 0,-12.2 C-3,-12.2 -6,-12.4 -9,-12 Z" fill="#000"/><rect x="-6.5" y="1.6" width="12" height="4.6" fill="#8c8c8c"/><rect x="-6.5" y="1.6" width="12" height="1" fill="#a8a8a8"/></g>
<g transform="translate(577 502.2)"><path d="M-9,-12 C-12,-12 -12.5,-9 -12,-6 C-11.6,-3.5 -10.6,-2 -10,-1 C-11.5,0.5 -12.2,3 -12,6.5 C-11.8,10 -10,12.2 -7,12.2 L7,12.2 C10,12.2 11.8,10 12,6.5 C12.2,3 11.5,0.5 10,-1 C10.6,-2 11.6,-3.5 12,-6 C12.5,-9 12,-12 9,-12 C6,-12.4 3,-12.2 0,-12.2 C-3,-12.2 -6,-12.4 -9,-12 Z" fill="#000"/><rect x="-6.5" y="1.6" width="12" height="4.6" fill="#8c8c8c"/><rect x="-6.5" y="1.6" width="12" height="1" fill="#a8a8a8"/></g>
<path d="M127.7 432.9C128.6 422.9 130 411.4 137.1 410C143.4 410 145.7 420 148 427.1C157.1 441.4 174.3 451.4 197.7 454.9C198.6 448.6 201.4 442.3 206.3 442.3C212.9 442.9 215.7 454.3 217.7 471.4L230.9 472.9L234.3 486.3L238.6 488.6C238.6 492.9 231.4 497.1 221.4 498.6L216.6 497.1L128 456.6L126.3 451.4Z" fill="#000" stroke="#000" stroke-width="2" />
<path d="M130.6 427.4C132.9 425.7 135.4 425.7 137.7 426.6C147.1 440 170 453.7 197.7 456.6C200 454.9 203.4 454 206.9 454.9L214.3 464.6L216 489.4L130.6 450.9Z" fill="#7d7d7d" stroke="none" stroke-width="2" />
<path d="M128.6 454L215.7 493.4" fill="none" stroke="#c8c8c8" stroke-width="1.1" />
<path d="M219.4 480.6L230 479.4L231.4 488.6L220 489.7Z" fill="#8f8f8f" stroke="none" stroke-width="2" />
<ellipse cx="137.5" cy="417.5" rx="3.2" ry="4.5" fill="#111" stroke="#333" stroke-width="1" transform="rotate(-20 137.5 417.5)"/>
<ellipse cx="206" cy="450" rx="3.2" ry="4.5" fill="#111" stroke="#333" stroke-width="1" transform="rotate(-20 206 450)"/>
<path d="M102.9 422.9L117.1 419.4C120.6 419.4 120.6 427.7 117.1 428.6L104.3 431.4Z" fill="#8e8e8e" stroke="#000" stroke-width="2.6" />
<path d="M86.3 428L88.6 422.3L93.7 418.9L99.4 419.4L104 422.9L105.1 429.1L103.4 434.9L98.9 438.9L93.1 438.9L88 435.4Z" fill="#000" stroke="#000" stroke-width="2" />
<path d="M333.9 624.4Q333.9 619.9 340.6 619.6Q347.1 619.9 347.1 624.4L347.1 669L333.9 669Z" fill="#000" stroke="#000" stroke-width="1" />
<path d="M331.4 667.6L334.3 666.3L346.9 666.3L351.4 669L351.4 672.4L349.8 674.9L350.3 678.1L345.7 681.8L341.1 683.9L335.7 681.6L332.2 677.2L332.7 673.6L330.9 670.8Z" fill="#000" stroke="#000" stroke-width="1.2" />
<circle cx="339.0857142857143" cy="645.2285714285714" r="0.9" fill="#777"/>
<circle cx="339.0857142857143" cy="652.7714285714286" r="0.9" fill="#777"/>
<path d="M340 589.3L352.9 590.7C353.6 597.9 356.4 606.4 361.4 612.1L357.9 617.9L351.4 616.4C346.4 610.7 342.1 600.7 340 589.3Z" fill="#000" stroke="#000" stroke-width="2.8" />
<path d="M351.4 596.4C352.4 602.1 355 607.9 358.6 611.4L356.4 613.6C352.9 610 350.7 603.6 350 597.9Z" fill="#8e8e8e" stroke="none" stroke-width="0.0" />
<path d="M352.4 595.7C352.9 599.3 353.9 602.1 355.3 605" fill="none" stroke="#f0f0f0" stroke-width="1.5" />
<path d="M415.7 622.1L427.1 623.6C428.6 632.1 431.4 640.7 435.7 646.4L434.3 650.7L425 647.1C420 640.7 417.1 632.1 415.7 622.1Z" fill="#000" stroke="#000" stroke-width="2.8" />
<path d="M424.3 627.9C425.7 635 428.6 640.7 432.1 645L430 646.4C427.1 642.9 425 636.4 423.6 629.3Z" fill="#8e8e8e" stroke="none" stroke-width="0.0" />
<path d="M425.4 626.4C426.4 630.7 427.4 633.6 428.6 636.4" fill="none" stroke="#f0f0f0" stroke-width="1.5" />
<path d="M370 582.1L396.4 573.3L406.4 574.3 L400 575L414.3 579.3L434.3 579.3L455.7 595.7L471.4 602.1L485.7 609.3 L470 604.3L495.7 615.7L511.4 616.4L527.1 628.6L538.6 635.7L540 645.7L532.9 650L494.3 661.4L484.3 664.6L470 663.1 L471.4 658.6L442.9 657.1L428.6 651.4L421.4 645 L414.6 630.7L395 625.7L377.9 623.6L372.1 622.1L370 612.1 Z" fill="#808080" stroke="#000" stroke-width="3.6" />
<path d="M474.3 654.6L494.3 653.1L537.1 638.9L538.3 645.4L494.3 659.7L474.3 661.1Z" fill="#767676" stroke="none" stroke-width="0.0" />
<path d="M470 651.4L494.3 652.9L537.1 637.9" fill="none" stroke="#000" stroke-width="2" />
<path d="M496.4 656L530 645.4" fill="none" stroke="#aaa" stroke-width="1.2" stroke-dasharray="2 1.5"/>
<path d="M494.3 652.9L494.3 660.7M537.1 637.9L538.6 645.7" fill="none" stroke="#000" stroke-width="2" />
<path d="M379.3 621L414.6 629.3L414.6 632.9L379.3 624.3Z" fill="#767676" stroke="none" stroke-width="0.0" />
<path d="M372.1 620L414.6 628.6" fill="none" stroke="#000" stroke-width="2" />
<path d="M428.6 650.7L442.9 652.9L471.4 654.3L499.6 652.9" fill="none" stroke="#000" stroke-width="2" />
<path d="M376.4 592.4C379.3 588.6 386.4 586.1 395 586.1C402.1 586.1 407.9 588.6 410.7 592.4L413.6 597.9L406.4 602.1C400.7 602.9 392.1 602.1 386.4 599.3Z" fill="#000" stroke="none" stroke-width="0.0" />
<path d="M382.1 592.9C386.4 590 395 589.3 403.6 591.4L400.7 595.7L389.3 596.4Z" fill="#8e8e8e" stroke="none" stroke-width="0.0" />
<path d="M389.3 597.1L400.7 595L404.3 597.9L398.6 600.7L392.1 600.4Z" fill="#bfe6f0" stroke="none" stroke-width="0.0" />
<path d="M382.1 592.4L397.9 590" fill="none" stroke="#f0f0f0" stroke-width="1" />
<path d="M442.9 617.6L457.9 621.9L444.3 626.7Z" fill="#bfe6f0" stroke="#000" stroke-width="3.36" />
<path d="M442.9 612.1L465.7 618.6L467.1 622.1L457.1 621.9L442.9 617.6Z" fill="#000" stroke="none" stroke-width="0.0" />
<path d="M468.6 630.7L478.6 626.4L495.7 631.4L504.3 638.6L498.6 644.6L484.3 644.6L468.6 639.3Z" fill="#000" stroke="none" stroke-width="0.0" />
<path d="M475.7 638.3L484.3 637.1L492.1 639.3L487.1 641.7L480 641.1Z" fill="#bfe6f0" stroke="none" stroke-width="0.0" />
<path d="M475.7 630.7L484.3 631.4M491.4 633.6L497.1 637.1" fill="none" stroke="#f0f0f0" stroke-width="1.2" />
<path d="M467.1 630.7L480 626.4L500 632.9L500 642.9L485.7 645L468.6 636.4Z" fill="#000" stroke="none" stroke-width="0.0" />
<path d="M477.9 638.1L485.7 637.1L491.4 639.3L487.1 641.4L481.4 640.7Z" fill="#bfe6f0" stroke="none" stroke-width="0.0" />
<path d="M474.3 631L482.9 631.9M490 633.6L497.1 636.4" fill="none" stroke="#f0f0f0" stroke-width="1.2" />
<path d="M327.6 565.7L346.4 559.3L368.1 568.6L369 610.7L366.7 616.7L360.7 596.4L356.4 586.1L330.7 586.7L327.9 583.6Z" fill="#000" stroke="#000" stroke-width="2.8" />
<path d="M329.3 566.4L346.4 561L365 568.6L353.6 572.9L330.7 570.4Z" fill="#8e8e8e" stroke="none" stroke-width="0.0" />
<ellipse cx="343.57142857142856" cy="568.2857142857143" rx="5.6" ry="3.4" fill="#000"/>
<path d="M331 572.9L352.4 575L352.4 585.3L331.4 585.7Z" fill="#808080" stroke="none" stroke-width="0.0" />
<path d="M331 578.6L336.4 577.9L336.4 581.4L331 582.1Z" fill="#000" stroke="none" stroke-width="0.0" />
<path d="M355.7 574.3L366.7 570.7L367.6 609.3L365.7 612.1C363.6 602.1 360.7 593.6 356.7 585.7Z" fill="#808080" stroke="none" stroke-width="0.0" />
<path d="M357.9 586.4C361.4 595 364.3 603.6 365.7 611.4" fill="none" stroke="#ddd" stroke-width="1" />
<path d="M403.1 600.7L417.1 595.3L433.6 601.9L439.3 604.7L441.7 629.3L443.6 651.4L437.4 645.3L431.7 626.7L427.1 619.3L404 620Z" fill="#000" stroke="#000" stroke-width="2.8" />
<path d="M405 601L417.1 596.7L431.7 602.1L421.4 605.7L406.4 604.3Z" fill="#8e8e8e" stroke="none" stroke-width="0.0" />
<ellipse cx="415.7142857142857" cy="601.4285714285714" rx="5.4" ry="3.2" fill="#000"/>
<path d="M405 606.7L422.6 608.1L422.9 618.6L405 618.6Z" fill="#808080" stroke="none" stroke-width="0.0" />
<path d="M427.9 607.1L437.9 605.7L440 629.3L441.7 648.6L438.3 643.6L433.1 626.4Z" fill="#808080" stroke="none" stroke-width="0.0" />
<path d="M437.9 607.9L439.7 629.3" fill="none" stroke="#ddd" stroke-width="1" />
<path d="M434.3 579.3L441.4 570.7L444.3 565 L444.4 564L445 540 L444 538L462 528L480 530L486.4 538L486 552L477 560L470 574 L472.9 565L468.6 573.6L460 583.6L451.4 592.1 Z" fill="#000" stroke="#000" stroke-width="3.4" />
<path d="M447.4 538.3L461.7 531.1L477.1 530.4L484 535.7L466 544.3Z" fill="#8e8e8e" stroke="none" stroke-width="0.0" />
<ellipse cx="469.2857142857143" cy="533.7142857142857" rx="6.2" ry="4.4" fill="#000"/>
<path d="M446.6 543.1L462.9 546.3L461.7 567.4L446.6 563.1Z" fill="#808080" stroke="none" stroke-width="0.0" />
<path d="M466.3 546.3L483.7 539.7L484 550.9L476.6 556.3L469.4 572.9L463.1 581.4L462.3 568.6Z" fill="#767676" stroke="none" stroke-width="0.0" />
<path d="M437.1 580.9L446 565.4L461.7 569.1L462.9 581.1L454.9 591.1L448.6 589.7Z" fill="#808080" stroke="none" stroke-width="0.0" />
<path d="M446.6 563.7L461.7 568" fill="none" stroke="#000" stroke-width="2.2" />
<path d="M455.7 592.9C459.3 590 462.1 585.7 464.6 580" fill="none" stroke="#f0f0f0" stroke-width="2.2" />
<path d="M447.1 544.3L447.1 562.6" fill="none" stroke="#d8d8d8" stroke-width="1" />
<path d="M463.7 547.1L462.6 567.1" fill="none" stroke="#d8d8d8" stroke-width="1" />
<path d="M511.4 616.4L518.6 607.1L521.4 595.7L521.4 590 L520.7 599.3L520.3 574.3L525.7 569.3L541.4 563.9L555.7 564.7L563.1 570.7L563.1 586.7L555.7 592.4L550.3 596.7L543.6 610.7 L544.3 612.9L537.1 622.9L527.1 628.9 Z" fill="#000" stroke="#000" stroke-width="3.4" />
<path d="M522.9 573.6L527.1 570.4L541.4 565.7L554.3 566.4L560 570.7L543.6 581Z" fill="#8e8e8e" stroke="none" stroke-width="0.0" />
<ellipse cx="546.0" cy="568.5714285714286" rx="6" ry="3.8" fill="#000"/>
<path d="M522.6 578.6L539.3 584.3L539.3 604.3L523.6 598.6Z" fill="#808080" stroke="none" stroke-width="0.0" />
<path d="M542.1 584.3L557.1 578.1L557.9 587.9L551.4 592.1L547.1 599.3L542.9 609.3L540.7 605Z" fill="#767676" stroke="none" stroke-width="0.0" />
<path d="M558.3 576.4L561.7 573.6L561.7 585.7L558.3 588.6Z" fill="#767676" stroke="none" stroke-width="0.0" />
<path d="M522.9 602.1L538.6 607.9L532.9 618.6L527.1 625L512.9 616.4L519.3 608.6Z" fill="#808080" stroke="none" stroke-width="0.0" />
<path d="M528.3 627.4C532.9 624.3 537.1 618.6 540 611.4" fill="none" stroke="#f0f0f0" stroke-width="2" />
<path d="M522.9 579.3L523.6 597.9" fill="none" stroke="#ddd" stroke-width="1" />
<path d="M540.7 585L540.7 604.3" fill="none" stroke="#ddd" stroke-width="1" />
<path d="M521.7 601.4L539.3 607.9" fill="none" stroke="#000" stroke-width="2" />
<line x1="596.8" y1="119.3" x2="546.2" y2="148.8" stroke="#1c1c1c" stroke-width="1.1" stroke-linecap="butt"/>
<line x1="401" y1="43.6" x2="455.4" y2="50.1" stroke="#1c1c1c" stroke-width="1.1" stroke-linecap="butt"/>
<line x1="340.7" y1="123.6" x2="377" y2="133.6" stroke="#1c1c1c" stroke-width="1.1" stroke-linecap="butt"/>
<line x1="230" y1="172.5" x2="288.9" y2="163.6" stroke="#1c1c1c" stroke-width="1.1" stroke-linecap="butt"/>
<line x1="416" y1="157.6" x2="477.1" y2="157.4" stroke="#1c1c1c" stroke-width="1.1" stroke-linecap="butt"/>
<line x1="528.9" y1="217.1" x2="505" y2="235" stroke="#1c1c1c" stroke-width="1.1" stroke-linecap="butt"/>
<line x1="624.6" y1="475.2" x2="588.6" y2="493.8" stroke="#1c1c1c" stroke-width="1.1" stroke-linecap="butt"/>
<line x1="564.3" y1="575.7" x2="620" y2="590" stroke="#1c1c1c" stroke-width="1.1" stroke-linecap="butt"/>
<line x1="286.4" y1="617.7" x2="333.6" y2="623.6" stroke="#1c1c1c" stroke-width="1.1" stroke-linecap="butt"/>
<line x1="148.5" y1="333" x2="154" y2="431" stroke="#1c1c1c" stroke-width="1.1" stroke-linecap="butt"/>
<line x1="44.6" y1="382.1" x2="88.6" y2="421" stroke="#1c1c1c" stroke-width="1.1" stroke-linecap="butt"/>
<defs><clipPath id="lc0"><rect x="595.80" y="105.10" width="19.96" height="19.0"/><rect x="603.25" y="124.00" width="5.3" height="4.6"/></clipPath><clipPath id="lc9"><rect x="133.30" y="314.50" width="36.92" height="19.0"/><rect x="140.75" y="333.40" width="5.3" height="4.6"/><rect x="150.66" y="333.40" width="17" height="5"/></clipPath><clipPath id="lc10"><rect x="26.30" y="363.60" width="36.92" height="19.0"/><rect x="33.75" y="382.50" width="5.3" height="4.6"/><rect x="50.26" y="382.50" width="5.3" height="4.6"/></clipPath></defs>
<text x="596.8" y="128.1" clip-path="url(#lc0)">1</text>
<text x="455.7" y="58.4">2</text>
<text x="320.65" y="130.0">3</text>
<text x="289.6" y="177.0">4</text>
<text x="477.5" y="166.8">5</text>
<text x="529.45" y="225.7">6</text>
<text x="625.45" y="487.6">7</text>
<text x="621.4" y="599.3">8</text>
<text x="263.9" y="626.3">9</text>
<text x="134.3" y="337.5" clip-path="url(#lc9)" letter-spacing="-1.0">10</text>
<text x="27.3" y="386.6" clip-path="url(#lc10)" letter-spacing="-0.45">11</text>
</svg>
</body>
</html>
